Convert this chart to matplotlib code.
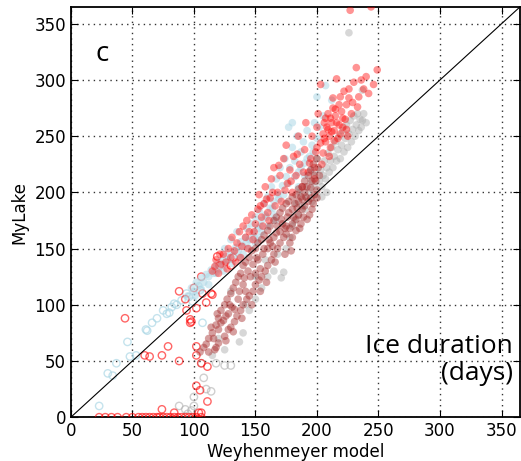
#!/usr/bin/env python3
"""
Ice duration: MyLake vs Weyhenmeyer model (panel c)
"""

import matplotlib
matplotlib.use("Agg")
import matplotlib.pyplot as plt

# --- data (days) ---------------------------------------------------------
red_fill = [
    (115, 130), (118, 140), (120, 128), (122, 136), (124, 145), (126, 138), (128, 150),
    (130, 142), (131, 160), (133, 148), (135, 155), (137, 165), (139, 152), (140, 170),
    (142, 160), (143, 175), (145, 165), (147, 180), (148, 158), (150, 172), (152, 185),
    (153, 198), (155, 178), (157, 190), (158, 205), (160, 182), (162, 195), (163, 212),
    (165, 222), (166, 188), (168, 200), (170, 215), (171, 192), (173, 230), (175, 242),
    (176, 208), (178, 220), (180, 200), (181, 232), (183, 215), (185, 250), (186, 225),
    (188, 205), (190, 238), (191, 262), (193, 218), (195, 230), (196, 250), (198, 212),
    (200, 240), (201, 270), (203, 296), (204, 225), (205, 252), (206, 262), (207, 245),
    (208, 258), (209, 270), (210, 250), (211, 240), (212, 262), (213, 275), (214, 255),
    (215, 268), (216, 301), (217, 248), (218, 260), (219, 285), (220, 272), (221, 258),
    (222, 290), (223, 265), (224, 278), (225, 250), (226, 292), (227, 362), (228, 270),
    (230, 298), (232, 311), (234, 285), (236, 300), (238, 292), (240, 303), (242, 288),
    (244, 365), (246, 296), (249, 309), (210, 232), (205, 235), (198, 222), (200, 258),
    (213, 284), (218, 278),
    (206, 248), (209, 256), (211, 266), (214, 246), (216, 262), (219, 252), (221, 266),
    (224, 256), (207, 266), (212, 254), (215, 274), (203, 244), (199, 236), (194, 226),
    (189, 218), (184, 234), (179, 210), (174, 202), (169, 224), (164, 200), (159, 194),
    (154, 188), (149, 165), (144, 150), (138, 142), (134, 138), (127, 132), (121, 145),
    (117, 134), (156, 170), (161, 175), (229, 280), (233, 276), (226, 284),
]

blue_fill = [
    (95, 108), (98, 115), (100, 112), (102, 120), (104, 117), (106, 124), (108, 120),
    (110, 127), (112, 125), (114, 131), (116, 128), (118, 135), (120, 132), (122, 139),
    (124, 136), (126, 143), (128, 140), (130, 147), (132, 144), (134, 151), (136, 148),
    (138, 156), (140, 152), (142, 160), (143, 168), (145, 158), (147, 172), (148, 164),
    (150, 178), (152, 168), (153, 184), (155, 175), (157, 190), (158, 180), (160, 196),
    (162, 186), (163, 205), (165, 192), (167, 212), (168, 198), (170, 222), (172, 206),
    (174, 230), (175, 214), (177, 258), (178, 222), (180, 240), (182, 228), (184, 250),
    (185, 218), (187, 236), (189, 245), (190, 226), (192, 255), (194, 232), (196, 242),
    (198, 262), (200, 248), (202, 258), (140, 145), (145, 150), (150, 155), (155, 165),
    (160, 170), (165, 180), (135, 165), (130, 158), (125, 150), (185, 205), (190, 215),
    (195, 220), (180, 262), (205, 268), (207, 295), (212, 282), (200, 285),
    (112, 118), (118, 128), (124, 130), (131, 137), (137, 142), (143, 155), (149, 160),
    (154, 170), (159, 178), (164, 186), (169, 194), (173, 198), (177, 208), (182, 214),
    (187, 222), (192, 230), (197, 236), (106, 114), (101, 108), (152, 160), (166, 175),
]

grey_fill = [
    (130, 112), (137, 67), (140, 75), (145, 95), (150, 105), (155, 115), (160, 125),
    (165, 130), (171, 124), (173, 129), (168, 145), (175, 150), (178, 160), (180, 170),
    (182, 175), (185, 180), (188, 188), (190, 185), (192, 195), (194, 200), (196, 192),
    (198, 205), (200, 198), (202, 210), (203, 220), (204, 205), (205, 215), (206, 228),
    (207, 212), (208, 222), (209, 235), (210, 218), (211, 228), (212, 240), (213, 222),
    (214, 232), (215, 245), (216, 228), (217, 238), (218, 250), (219, 230), (220, 242),
    (221, 255), (222, 236), (223, 248), (224, 260), (225, 240), (226, 252), (227, 264),
    (228, 245), (229, 256), (230, 268), (231, 250), (232, 260), (233, 270), (234, 255),
    (235, 265), (236, 258), (237, 264), (238, 270), (240, 262), (226, 342), (237, 291),
    (200, 230), (198, 218), (195, 210), (190, 205), (186, 200), (183, 190), (158, 140),
    (150, 125), (142, 100), (120, 70), (125, 60), (115, 55), (204, 196), (208, 200),
]

darkred_fill = [
    (108, 62), (112, 70), (115, 75), (118, 82), (120, 88), (122, 95), (125, 100),
    (127, 105), (130, 110), (132, 115), (134, 120), (136, 125), (138, 128), (140, 135),
    (142, 138), (145, 142), (147, 148), (150, 150), (152, 155), (155, 158), (157, 162),
    (160, 166), (162, 170), (165, 175), (167, 178), (170, 182), (172, 186), (175, 190),
    (177, 192), (180, 196), (183, 198), (185, 203), (188, 205), (190, 210), (193, 215),
    (195, 220), (197, 225), (200, 230),
    (112, 58), (118, 62), (120, 66), (125, 72), (128, 78), (130, 80), (133, 85),
    (135, 90), (138, 95), (140, 100), (143, 105), (145, 108), (148, 112), (150, 118),
    (153, 122), (155, 125), (158, 130), (160, 135), (163, 140), (165, 145), (168, 150),
    (170, 155), (173, 160), (175, 163), (178, 168), (180, 172), (183, 176), (185, 180),
    (188, 185), (190, 188), (193, 192), (195, 195), (198, 198), (200, 202),
    (120, 78), (126, 90), (131, 98), (140, 118), (146, 125), (152, 140), (156, 145),
    (160, 150), (165, 160), (168, 170), (172, 172), (176, 178), (180, 185), (182, 190),
    (185, 192), (187, 196), (190, 200), (192, 205), (196, 210), (198, 215), (175, 170),
    (170, 165), (162, 155), (150, 128), (142, 112), (136, 105), (128, 92), (122, 84),
    (116, 70), (110, 65), (105, 58), (197, 190), (200, 195), (189, 178), (178, 155),
    (180, 160), (186, 168), (194, 180),
    (114, 80), (119, 92), (124, 86), (129, 100), (133, 96), (137, 112), (141, 124),
    (144, 130), (148, 136), (151, 142), (154, 132), (157, 150), (161, 158), (164, 152),
    (167, 164), (171, 176), (174, 168), (177, 182), (181, 178), (184, 186), (188, 194),
    (191, 196), (195, 204), (199, 210), (196, 185), (192, 176), (187, 172), (183, 166),
    (179, 148), (174, 145), (166, 138), (159, 120), (154, 112), (147, 100), (139, 88),
    (132, 76), (126, 68), (117, 60), (202, 215), (201, 222),
]

blue_open = [
    (23, 10), (30, 39), (34, 37), (37, 48), (46, 67), (48, 54), (53, 55), (61, 78),
    (62, 77), (70, 88), (78, 92), (80, 93), (84, 101), (86, 100), (94, 110), (96, 107),
    (105, 113), (107, 84), (90, 104), (75, 95), (82, 98), (99, 103), (66, 84),
]

red_open = [
    (44, 88), (60, 55), (64, 54), (74, 55), (79, 63), (88, 50), (88, 112), (93, 105),
    (94, 95), (97, 87), (97, 84), (100, 115), (102, 97), (106, 125), (110, 102),
    (115, 109), (102, 63), (102, 55), (106, 48), (111, 45), (102, 28), (105, 24),
    (111, 14), (74, 7), (84, 4), (104, 4), (106, 4), (119, 143), (121, 135), (130, 135),
    (132, 142), (107, 110), (114, 110), (98, 85),
    (23, 0), (28, 0), (33, 0), (38, 0), (45, 0), (50, 0), (55, 0), (58, 0), (61, 0),
    (64, 0), (67, 0), (70, 0), (72, 0), (75, 0), (78, 0), (81, 0), (84, 0), (87, 0),
    (90, 0), (93, 0), (96, 0), (99, 0), (102, 0), (106, 0),
]

grey_open = [
    (106, 48), (118, 48), (125, 46), (130, 46), (110, 25), (114, 23), (100, 18),
    (88, 10), (93, 7), (98, 6), (95, 3), (100, 10), (108, 35),
]

AX_MAX = 365


def scatter_filled(ax, pts, color, alpha):
    xs, ys = zip(*pts)
    ax.scatter(xs, ys, s=30, c=color, alpha=alpha, edgecolors='none', zorder=3)


def scatter_open(ax, pts, color, alpha):
    xs, ys = zip(*pts)
    ax.scatter(xs, ys, s=28, facecolors='none', edgecolors=color,
               linewidths=1.0, alpha=alpha, zorder=3)


fig = plt.figure(figsize=(5.21, 4.61), dpi=100)
ax = fig.add_axes([0.136, 0.095, 0.862, 0.890])

# open circles first, filled on top
scatter_open(ax, grey_open, '#b0b0b0', 0.6)
scatter_open(ax, blue_open, '#add8e6', 0.7)
scatter_open(ax, red_open, 'red', 0.6)

scatter_filled(ax, blue_fill, '#add8e6', 0.55)
scatter_filled(ax, grey_fill, '#a8a8a8', 0.45)
scatter_filled(ax, red_fill, 'red', 0.42)
scatter_filled(ax, darkred_fill, '#a52a2a', 0.45)

# 1:1 line
ax.plot([0, AX_MAX], [0, AX_MAX], color='black', lw=0.8, zorder=4)

ax.set_xlim(0, AX_MAX)
ax.set_ylim(0, AX_MAX)
ax.set_xticks(range(0, 351, 50))
ax.set_yticks(range(0, 351, 50))
ax.tick_params(direction='in', top=True, right=True, length=5, labelsize=12)
ax.grid(True, color='#333333', linestyle=(0, (1, 3)), linewidth=1.0)
ax.set_axisbelow(True)
for sp in ax.spines.values():
    sp.set_linewidth(1.3)

ax.set_xlabel('Weyhenmeyer model', fontsize=12, labelpad=2)
ax.set_ylabel('MyLake', fontsize=12, labelpad=4)

ax.text(0.055, 0.885, 'c', transform=ax.transAxes, fontsize=20,
        family='Open Sans', ha='left', va='center')
ax.text(0.985, 0.14, 'Ice duration\n(days)', transform=ax.transAxes,
        fontsize=19, family='Open Sans', ha='right', va='center',
        multialignment='right', linespacing=1.1)

plt.savefig('out.png', dpi=100)
